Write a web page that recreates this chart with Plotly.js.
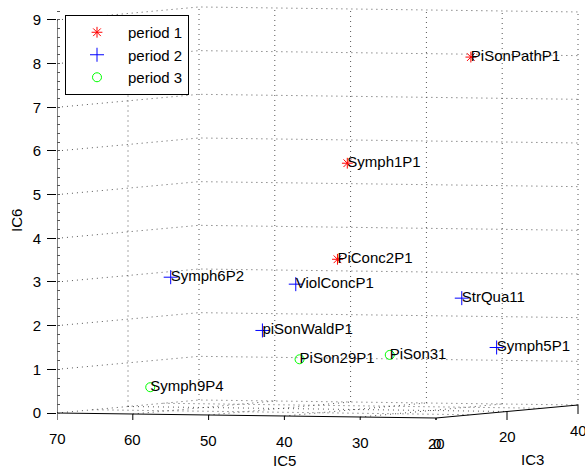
<!DOCTYPE html>
<html>
<head>
<meta charset="utf-8">
<script src="https://cdn.plot.ly/plotly-3.0.1.min.js"></script>
<style>html,body{margin:0;padding:0;background:#fff}#chart{width:585px;height:466px}</style>
</head>
<body>
<div id="chart"></div>
<script>
// ---- data (x = position along the IC5 axis as seen) ----
const labels  = ['PiSonPathP1','Symph1P1','PiConc2P1','Symph6P2','ViolConcP1','piSonWaldP1','StrQua11','Symph5P1','PiSon29P1','PiSon31','Symph9P4'];
const periods = [1, 1, 1, 2, 2, 2, 2, 2, 3, 3, 3];
const ic5     = [15.4, 31.7, 33.0, 55.0, 38.5, 42.9, 16.6, 12.0, 38.0, 26.1, 57.7];
const ic6     = [8.15, 5.72, 3.52, 3.11, 2.95, 1.89, 2.63, 1.50, 1.23, 1.33, 0.59];
const periodNames = ['period 1', 'period 2', 'period 3'];
const ic5Ticks = [70, 60, 50, 40, 30, 20];
const ic3Ticks = [0, 20, 40];
const ic6Ticks = [0, 1, 2, 3, 4, 5, 6, 7, 8, 9];

// ---- styling / view geometry ----
const FONT = 'Liberation Sans, Arial, Helvetica, sans-serif';
const styles = [
  {symbol: 'asterisk-open', size: 9, color: '#ff0000'},
  {symbol: 'cross-thin-open', size: 10, color: '#0000ff'},
  {symbol: 'circle-open', size: 9, color: '#00ff00'}
];
const PX5 = 7.58, PX3 = 3.55, PY6 = 43.67, TILT5 = 0.1, TILT3 = -0.325;
const ML = 57, MT = 5, MB = 46, W = 585, H = 466;
const plotH = H - MT - MB, plotW = W - ML;
const xRange = [70, 70 - plotW / PX5];
const yRange = [-(H - MB - 413) / PY6, (413 - MT) / PY6];
function P(a5, a3, a6) {
  const dy = (70 - a5) * TILT5 + a3 * TILT3;
  return [a5 - a3 * PX3 / PX5, a6 - dy / PY6];
}
function pathOf(pts) { return pts.map((p, i) => (i ? 'L' : 'M') + p[0] + ',' + p[1]).join(' '); }
const dotLine = {color: '#555', width: 1, dash: '1px,4px'};
const solid = {color: '#000', width: 1};
const shapes = [];
function addPath(pts, line) { shapes.push({type: 'path', xref: 'x', yref: 'y', path: pathOf(pts), line: line, layer: 'below'}); }

// wall gridlines (horizontal)
ic6Ticks.forEach(k => addPath([P(70, 0, k), P(70, 40, k), P(20, 40, k)], dotLine));
// left wall verticals
[20, 40].forEach(c => addPath([P(70, c, 0), P(70, c, 9)], dotLine));
// back wall verticals
[60, 50, 40, 30, 20].forEach(c => addPath([P(c, 40, 0), P(c, 40, 9)], dotLine));
// floor grid
[60, 50, 40, 30].forEach(c => addPath([P(c, 0, 0), P(c, 40, 0)], dotLine));
[10, 20, 30].forEach(c => addPath([P(70, c, 0), P(20, c, 0)], dotLine));
// solid edges
addPath([P(70, 0, 0), P(20, 0, 0), P(20, 40, 0)], solid);
addPath([P(70, 0, 0), P(70, 0, 9)], solid);
// tick marks on the floor edges (downwards, 9px)
const tl = 9 / PY6;
ic5Ticks.forEach(c => { const p = P(c, 0, 0); addPath([p, [p[0], p[1] - tl]], solid); });
ic3Ticks.forEach(c => { const p = P(20, c, 0); addPath([p, [p[0], p[1] - tl]], solid); });

function toPaperY(py) { return (H - MB - py) / plotH; }
function toPaperX(px) { return (px - ML) / plotW; }
const tickFont = {family: FONT, size: 15, color: '#000'};
const annotations = [];
// tick labels along the slanted floor edges
ic5Ticks.forEach(c => {
  const p = P(c, 0, 0);
  annotations.push({x: p[0], y: p[1], xref: 'x', yref: 'y', yshift: -25, text: String(c),
    showarrow: false, xanchor: 'center', yanchor: 'middle', font: tickFont});
});
ic3Ticks.forEach(c => {
  const p = P(20, c, 0);
  annotations.push({x: p[0], y: p[1], xref: 'x', yref: 'y', yshift: -25, xshift: c === 0 ? 1 : 0, text: String(c),
    showarrow: false, xanchor: 'center', yanchor: 'middle', font: tickFont});
});
annotations.push({x: toPaperX(284), xref: 'paper', y: toPaperY(460), yref: 'paper', text: 'IC5',
  showarrow: false, xanchor: 'center', yanchor: 'middle', font: tickFont});
annotations.push({x: toPaperX(532), xref: 'paper', y: toPaperY(459), yref: 'paper', text: 'IC3',
  showarrow: false, xanchor: 'center', yanchor: 'middle', font: tickFont});
annotations.push({x: toPaperX(16), xref: 'paper', y: toPaperY(221), yref: 'paper', text: 'IC6', textangle: -90,
  showarrow: false, xanchor: 'center', yanchor: 'middle', font: tickFont});

const traces = [];
[1, 2, 3].forEach((p, i) => {
  const idx = periods.map((v, j) => v === p ? j : -1).filter(j => j >= 0);
  const s = styles[i];
  traces.push({
    type: 'scatter', mode: 'markers', name: periodNames[i],
    x: idx.map(j => ic5[j]), y: idx.map(j => ic6[j]),
    marker: {symbol: s.symbol, size: s.size, color: s.color, line: {color: s.color, width: 1}},
    cliponaxis: false, hoverinfo: 'skip'
  });
});
traces.push({
  type: 'scatter', mode: 'text', showlegend: false,
  x: ic5, y: ic6, text: labels, textposition: 'middle right',
  textfont: {family: FONT, size: 15, color: '#000'}, cliponaxis: false, hoverinfo: 'skip'
});

const layout = {
  width: W, height: H,
  margin: {l: ML, r: 0, t: MT, b: MB},
  paper_bgcolor: '#fff', plot_bgcolor: '#fff',
  font: {family: FONT, size: 15, color: '#000'},
  showlegend: true,
  legend: {x: toPaperX(65), y: toPaperY(15), xanchor: 'left', yanchor: 'top',
    bgcolor: '#fff', bordercolor: '#000', borderwidth: 1,
    font: {family: FONT, size: 15, color: '#000'}, itemwidth: 52, tracegroupgap: 0},
  xaxis: {range: xRange, showticklabels: false, ticks: '',
    showgrid: false, zeroline: false, showline: false},
  yaxis: {range: yRange, tickvals: ic6Ticks, ticks: 'outside', ticklen: 9, tickcolor: '#000',
    showgrid: false, zeroline: false, showline: false, ticklabelstandoff: 3,
    minor: {ticks: 'inside', ticklen: 3, dtick: 0.2, tickcolor: '#555'},
    tickfont: tickFont},
  shapes: shapes,
  annotations: annotations
};
Plotly.newPlot('chart', traces, layout, {staticPlot: true, displayModeBar: false});
</script>
</body>
</html>
